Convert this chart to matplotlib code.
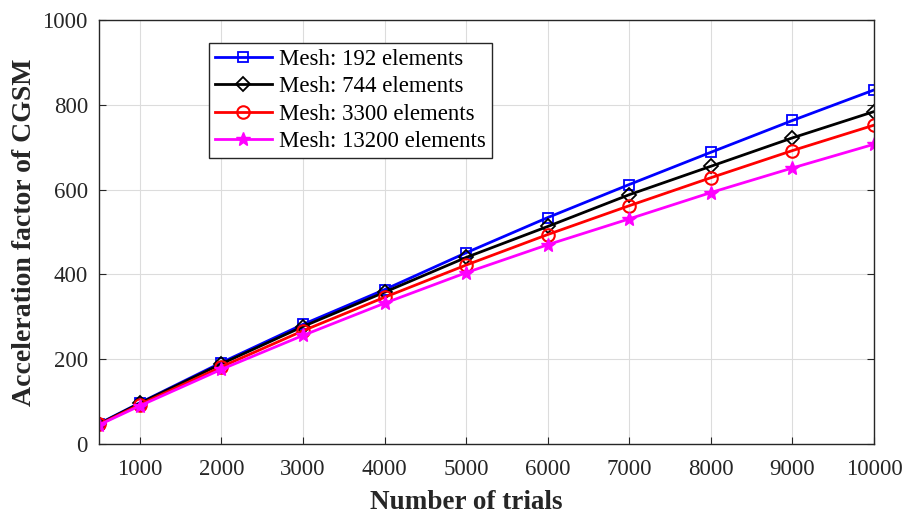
import matplotlib
matplotlib.use("Agg")
import matplotlib.pyplot as plt

trials = [500, 1000, 2000, 3000, 4000, 5000, 6000, 7000, 8000, 9000, 10000]
mesh_192 = [48, 97, 192, 282, 364, 451, 534, 612, 688, 763, 835]
mesh_744 = [47, 96, 189, 277, 358, 440, 513, 588, 655, 722, 784]
mesh_3300 = [46, 93, 182, 267, 346, 422, 494, 562, 628, 692, 752]
mesh_13200 = [45, 90, 176, 256, 332, 404, 470, 531, 593, 651, 707]
labels = ["Mesh: 192 elements", "Mesh: 744 elements",
          "Mesh: 3300 elements", "Mesh: 13200 elements"]

plt.rcParams['font.family'] = ['Liberation Serif', 'DejaVu Serif']

fig = plt.figure(figsize=(9.07, 5.16), dpi=100)
ax = fig.add_axes([99/907, 1 - 444/516, 775/907, 424/516])

ax.plot(trials, mesh_192, color='blue', marker='s', mfc='none', ms=7, mew=1.3, lw=2, label=labels[0])
ax.plot(trials, mesh_744, color='black', marker='D', mfc='none', ms=7, mew=1.3, lw=2, label=labels[1])
ax.plot(trials, mesh_3300, color='red', marker='o', mfc='none', ms=9, mew=1.5, lw=2, label=labels[2])
ax.plot(trials, mesh_13200, color='magenta', marker='*', ms=10, lw=2, label=labels[3])

ax.set_xlim(500, 10000)
ax.set_ylim(0, 1000)
ax.set_xticks(range(1000, 10001, 1000))
ax.set_yticks(range(0, 1001, 200))
ax.tick_params(direction='in', labelsize=16.5, length=5, top=False, right=True, colors='#262626')
ax.tick_params(axis='x', pad=11)
ax.tick_params(axis='y', pad=8)
ax.grid(True, color='#dcdcdc', lw=0.8)
for s in ax.spines.values():
    s.set_color('#262626')
    s.set_linewidth(1.0)

ax.set_xlabel("Number of trials", fontsize=19.5, fontweight='bold', color='#262626')
ax.xaxis.set_label_coords(0.474, -0.108)
ax.set_ylabel("Acceleration factor of CGSM", fontsize=20, fontweight='bold', color='#262626', labelpad=4)

leg = ax.legend(loc='upper left', bbox_to_anchor=(0.142, 0.946), fontsize=16.5,
                fancybox=False, edgecolor='#262626', framealpha=1,
                borderpad=0.25, labelspacing=0.28, handlelength=2.5, handletextpad=0.3,
                borderaxespad=0)
leg.get_frame().set_linewidth(1.0)

fig.savefig("out.png", dpi=100)
